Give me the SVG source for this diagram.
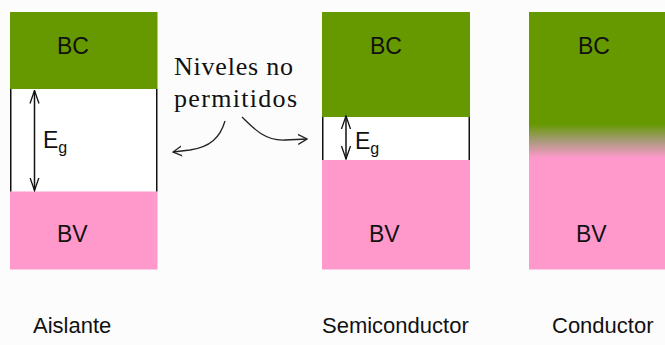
<svg xmlns="http://www.w3.org/2000/svg" width="665" height="345" viewBox="0 0 665 345">
  <style>
    .bc { fill: #669900; }
    .bv { fill: #ff99cc; }
    .gap { fill: #ffffff; }
    .side { stroke: #111; stroke-width: 1.5; fill: none; }
    .lbl { font-family: "Liberation Sans", Arial, sans-serif; font-size: 23px; fill: #111; }
    .cap { font-family: "Liberation Sans", Arial, sans-serif; font-size: 22px; fill: #111; }
    .sub { font-size: 16px; }
    .note { font-family: "Liberation Serif", "Times New Roman", serif; font-size: 26px; fill: #111; }
    .eg { stroke: #111; stroke-width: 1.5; fill: none; marker-start: url(#head); marker-end: url(#head); }
    .cur { stroke: #222; stroke-width: 1.3; fill: none; marker-end: url(#chev); }
  </style>
  <defs>
    <marker id="head" markerUnits="userSpaceOnUse" viewBox="0 0 14 12" markerWidth="14" markerHeight="12" refX="13" refY="6" orient="auto-start-reverse">
      <path d="M0,1.5 L13,6 L0,10.5" fill="none" stroke="#111" stroke-width="1.3"/>
    </marker>
    <marker id="chev" markerUnits="userSpaceOnUse" viewBox="0 0 10 12" markerWidth="10" markerHeight="12" refX="9" refY="6" orient="auto">
      <path d="M0,1 L9,6 L0,11" fill="none" stroke="#222" stroke-width="1.3"/>
    </marker>
    <linearGradient id="mix" gradientUnits="userSpaceOnUse" x1="0" y1="124" x2="0" y2="158">
      <stop offset="0" stop-color="#669900"/>
      <stop offset="0.5" stop-color="#a89a7a"/>
      <stop offset="1" stop-color="#ff99cc"/>
    </linearGradient>
  </defs>

  <rect x="0" y="0" width="665" height="345" fill="#fcfcfc"/>

  <g id="aislante">
    <rect class="bc" x="10" y="12" width="147.5" height="77"/>
    <rect class="gap" x="10" y="89" width="147.5" height="102.5"/>
    <rect class="bv" x="10" y="191.5" width="147.5" height="78"/>
    <path class="side" d="M10.75,89 V191.5 M156.75,89 V191.5"/>
    <text class="lbl" x="57" y="54">BC</text>
    <text class="lbl" x="57" y="242">BV</text>
    <text class="lbl" x="43" y="148" font-size="24">E<tspan class="sub" dy="5">g</tspan></text>
    <text class="cap" x="33" y="333">Aislante</text>
  </g>

  <g id="semiconductor">
    <rect class="bc" x="322" y="12" width="148" height="105"/>
    <rect class="gap" x="322" y="117" width="148" height="43"/>
    <rect class="bv" x="322" y="160" width="148" height="109.5"/>
    <path class="side" d="M322.75,117 V160 M469.25,117 V160"/>
    <text class="lbl" x="370" y="54">BC</text>
    <text class="lbl" x="369" y="242">BV</text>
    <text class="lbl" x="355" y="149" font-size="24">E<tspan class="sub" dy="5">g</tspan></text>
    <text class="cap" x="322" y="333">Semiconductor</text>
  </g>

  <g id="conductor">
    <rect class="bc" x="529" y="12" width="136" height="114"/>
    <rect fill="url(#mix)" x="529" y="124" width="136" height="34"/>
    <rect class="bv" x="529" y="158" width="136" height="111.5"/>
    <text class="lbl" x="578" y="54">BC</text>
    <text class="lbl" x="576" y="242">BV</text>
    <text class="cap" x="552" y="333">Conductor</text>
  </g>

  <g id="niveles">
    <text class="note" x="174" y="75" textLength="119" lengthAdjust="spacing">Niveles no</text>
    <text class="note" x="174" y="107" textLength="123" lengthAdjust="spacing">permitidos</text>
  </g>

  <g id="connectors">
    <path class="eg" d="M34.5,90.5 V190.5"/>
    <path class="eg" d="M346,116 V159"/>
    <path class="cur" d="M225,121 C220,138 210,147 190,150 L173,152"/>
    <path class="cur" d="M242,117 C255,130 266,141 285,140 L307,139"/>
  </g>
</svg>
